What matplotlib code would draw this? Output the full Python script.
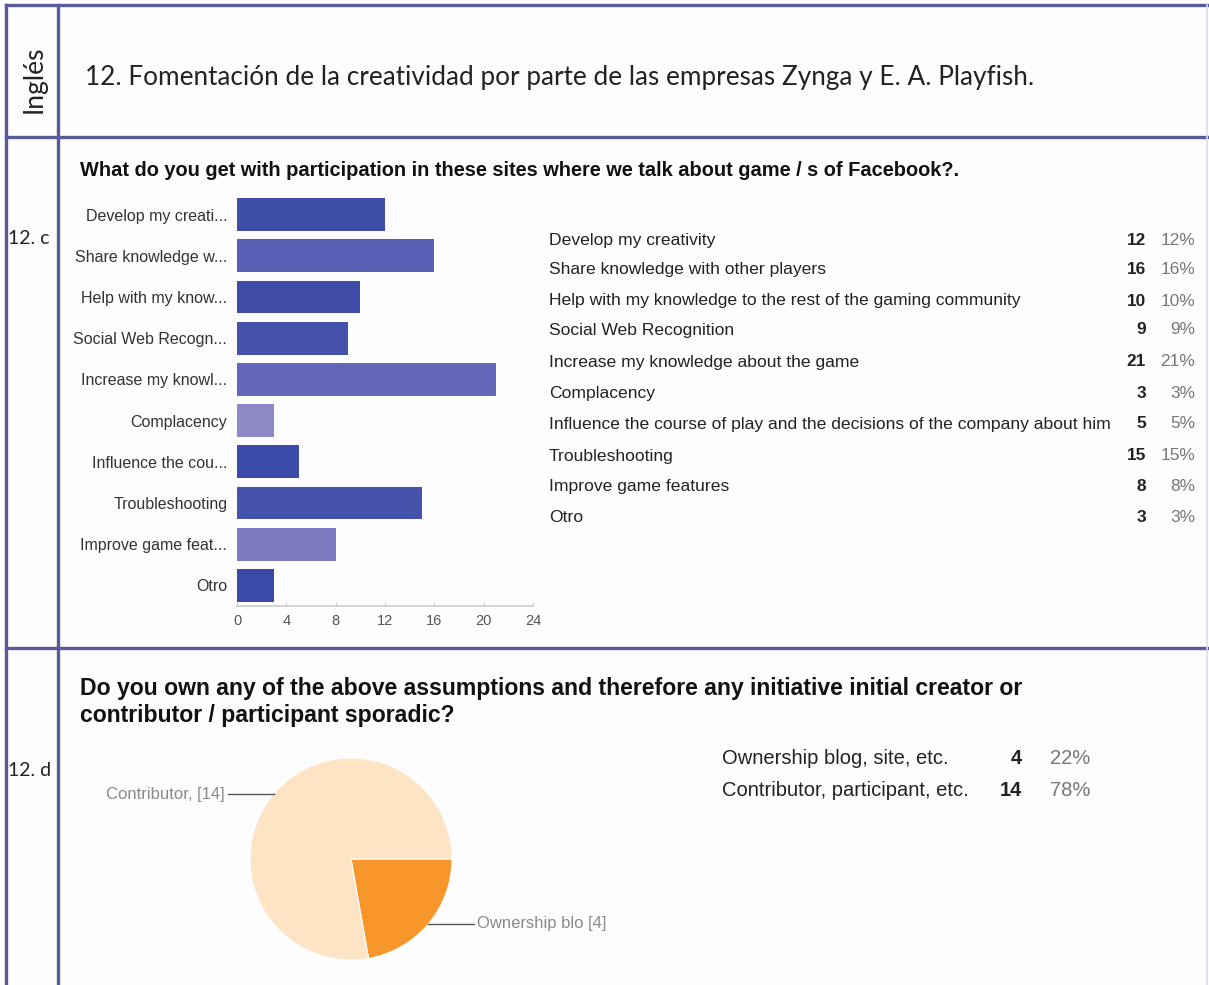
import matplotlib
matplotlib.use("Agg")
import matplotlib.pyplot as plt
from matplotlib.lines import Line2D
import numpy as np

# ---- data -------------------------------------------------------------
section_title = "12. Fomentación de la creatividad por parte de las empresas Zynga y E. A. Playfish."
q1_title = "What do you get with participation in these sites where we talk about game / s of Facebook?."
q2_title = ("Do you own any of the above assumptions and therefore any initiative initial creator or\n"
            "contributor / participant sporadic?")

bar_short_labels = ["Develop my creati...", "Share knowledge w...", "Help with my know...",
                    "Social Web Recogn...", "Increase my knowl...", "Complacency",
                    "Influence the cou...", "Troubleshooting", "Improve game feat...", "Otro"]
bar_full_labels = ["Develop my creativity", "Share knowledge with other players",
                   "Help with my knowledge to the rest of the gaming community",
                   "Social Web Recognition", "Increase my knowledge about the game",
                   "Complacency",
                   "Influence the course of play and the decisions of the company about him",
                   "Troubleshooting", "Improve game features", "Otro"]
bar_counts = [12, 16, 10, 9, 21, 3, 5, 15, 8, 3]
bar_pcts = ["12%", "16%", "10%", "9%", "21%", "3%", "5%", "15%", "8%", "3%"]
bar_colors = ["#3f4ea9", "#5a60b6", "#3e4ca8", "#4552ab", "#6267b9",
              "#8d8ac7", "#3d4ba8", "#4653ab", "#7c7ac0", "#3b4aa8"]
x_ticks = [0, 4, 8, 12, 16, 20, 24]

pie_labels = ["Ownership blog, site, etc.", "Contributor, participant, etc."]
pie_short = ["Ownership blo [4]", "Contributor, [14]"]
pie_counts = [4, 14]
pie_pcts = ["22%", "78%"]
pie_colors = ["#f7962b", "#fde4c4"]

# ---- figure -----------------------------------------------------------
W, H = 1209, 985
fig = plt.figure(figsize=(W / 100, H / 100), dpi=100)
fig.patch.set_facecolor("#fdfdfd")


def fx(x):
    return x / W


def fy(y):
    return 1 - y / H


def rect(x0, y0, x1, y1):
    return [fx(x0), fy(y1), (x1 - x0) / W, (y1 - y0) / H]


SANS = ["Liberation Sans", "DejaVu Sans"]
CAL = ["Lato", "DejaVu Sans"]

# table grid
grid_c = "#5b5a98"
for (xs, ys) in [([6, 1208], [5, 5]), ([6, 1208], [137, 137]), ([6, 1208], [648, 648]),
                 ([6, 6], [5, 985]), ([58, 58], [5, 985])]:
    fig.add_artist(Line2D([fx(v) for v in xs], [fy(v) for v in ys], color=grid_c, lw=2.4))
fig.add_artist(Line2D([fx(1207), fx(1207)], [fy(5), fy(985)], color="#dcdaf0", lw=1.2))

# header row
fig.text(fx(34), fy(79), "Inglés", rotation=90, ha="center", va="center",
         fontsize=19, family=CAL, color="#222222")
fig.text(fx(85), fy(78), section_title, ha="left", va="center",
         fontsize=18.8, family=CAL, color="#222222")
fig.text(fx(8), fy(238), "12. c", ha="left", va="center", fontsize=14, family=CAL, color="#222222")
fig.text(fx(8), fy(771), "12. d", ha="left", va="center", fontsize=14, family=CAL, color="#222222")

# ---- bar chart ----------------------------------------------------------
fig.text(fx(80), fy(170), q1_title, ha="left", va="center", fontsize=14.4,
         fontweight="bold", family=SANS, color="#111111")

ax = fig.add_axes(rect(237, 194, 533, 606))
ypos = np.arange(len(bar_counts))
ax.barh(ypos, bar_counts, height=0.8, color=bar_colors)
ax.set_ylim(len(bar_counts) - 0.5, -0.5)
ax.set_xlim(0, 24)
ax.set_xticks(x_ticks)
ax.set_xticklabels([str(t) for t in x_ticks])
ax.set_yticks(ypos)
ax.set_yticklabels(bar_short_labels)
ax.tick_params(axis="y", length=0, pad=7, labelsize=11.5, labelcolor="#333333")
ax.tick_params(axis="x", length=3, direction="in", color="#cccccc", pad=6,
               labelsize=10.5, labelcolor="#555555")
for lab in ax.get_yticklabels() + ax.get_xticklabels():
    lab.set_family(SANS)
for s in ["top", "right", "left"]:
    ax.spines[s].set_visible(False)
ax.spines["bottom"].set_color("#cccccc")
ax.spines["bottom"].set_linewidth(1.2)
ax.set_facecolor("none")

row_y = [240, 270, 301, 330, 362, 393, 424, 456, 487, 518]
for yy, lab, c, p in zip(row_y, bar_full_labels, bar_counts, bar_pcts):
    fig.text(fx(549), fy(yy), lab, ha="left", va="center", fontsize=12.6,
             family=SANS, color="#222222")
    fig.text(fx(1146), fy(yy), str(c), ha="right", va="center", fontsize=12.4,
             fontweight="bold", family=SANS, color="#222222")
    fig.text(fx(1195), fy(yy), p, ha="right", va="center", fontsize=12.4,
             family=SANS, color="#777777")

# ---- pie chart ----------------------------------------------------------
fig.text(fx(80), fy(702), q2_title, ha="left", va="center", fontsize=16.6,
         fontweight="bold", family=SANS, color="#111111", linespacing=1.2)

cx, cy, r = 351, 859, 101
pax = fig.add_axes(rect(cx - r, cy - r, cx + r, cy + r))
wedges, _ = pax.pie(pie_counts, colors=pie_colors, startangle=0, counterclock=False,
                    radius=1, wedgeprops=dict(edgecolor="#fdfdfd", linewidth=0.8))
pax.set_xlim(-1, 1)
pax.set_ylim(-1, 1)
pax.set_aspect("equal")
pax.axis("off")

for w, lab in zip(wedges, pie_short):
    mid = np.deg2rad((w.theta1 + w.theta2) / 2)
    px, py = np.cos(mid), np.sin(mid)
    side = 1 if px > 0 else -1
    ex = side * 1.22
    pax.plot([px, ex], [py, py], color="#555555", lw=1.0, clip_on=False)
    pax.text(ex + side * 0.03, py, lab, ha="left" if side > 0 else "right", va="center",
             fontsize=12, family=SANS, color="#8a8a8a", clip_on=False)

pie_row_y = [758, 790]
for yy, lab, c, p in zip(pie_row_y, pie_labels, pie_counts, pie_pcts):
    fig.text(fx(722), fy(yy), lab, ha="left", va="center", fontsize=14.5,
             family=SANS, color="#222222")
    fig.text(fx(1022), fy(yy), str(c), ha="right", va="center", fontsize=14.5,
             fontweight="bold", family=SANS, color="#222222")
    fig.text(fx(1050), fy(yy), p, ha="left", va="center", fontsize=14.5,
             family=SANS, color="#777777")

fig.savefig("out.png", dpi=100, facecolor=fig.get_facecolor())
